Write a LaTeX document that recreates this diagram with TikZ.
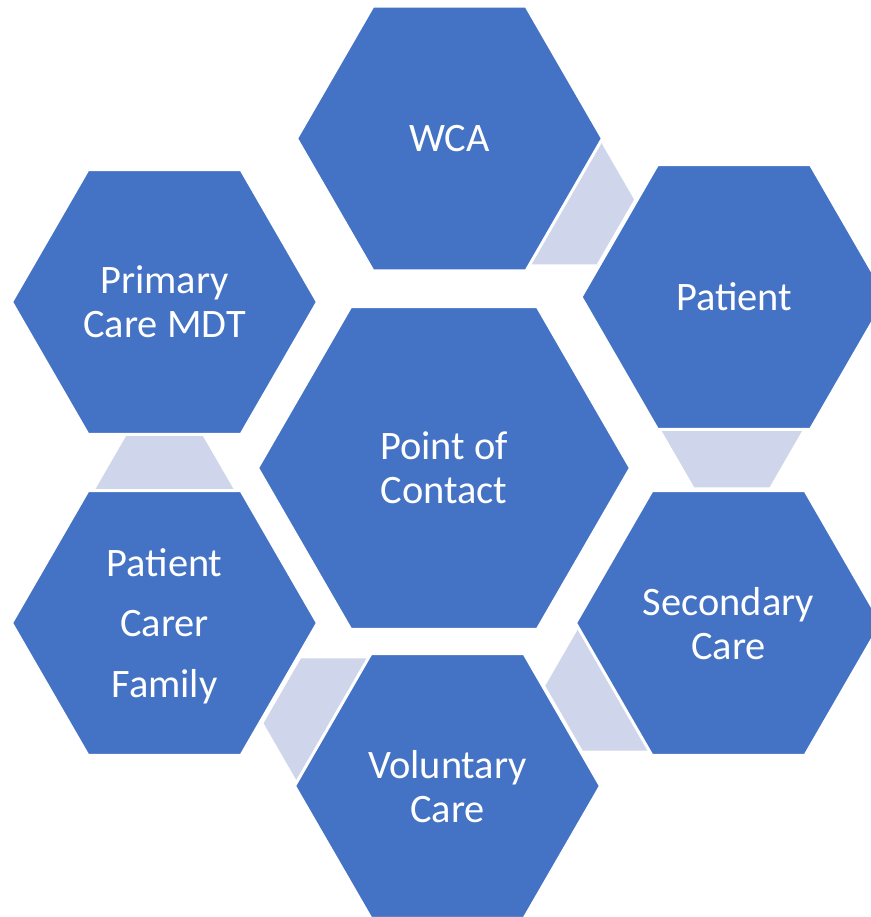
\documentclass[tikz,border=0pt]{standalone}
\usepackage{fontspec}
\setmainfont{Carlito}
\usetikzlibrary{shapes.geometric, calc, backgrounds}

\definecolor{hexblue}{HTML}{4472C4}
\definecolor{linkgrey}{HTML}{CFD5EA}

\begin{document}
\begin{tikzpicture}[x=0.02cm, y=-0.02cm, font=\fontsize{23}{25}\selectfont,
    hexa/.style = {regular polygon, regular polygon sides=6, minimum size=6.12cm, inner sep=0pt, fill=hexblue, draw=white, line width=1.7pt, text=white, align=center, text depth=0pt},
    bighexa/.style = {hexa, minimum size=7.46cm},
    link/.style = {regular polygon, regular polygon sides=6, minimum size=3cm, inner sep=0pt, fill=linkgrey}]
    \useasboundingbox (0,0) rectangle (871,917);
    \clip (0,0) rectangle (871,917);
    % centre and ring
    \node[bighexa] (poc) at (444,468) {Point of\\Contact};
    \node[hexa] (wca) at (449.5,138.5) {WCA};
    \node[hexa] (patient) at (734,297) {Patient};
    \node[hexa] (secondary) at (728.5,623) {Secondary\\Care};
    \node[hexa] (voluntary) at (447.5,786) {Voluntary\\Care};
    \node[hexa, font=\fontsize{23}{34.6}\selectfont] (family) at (164.5,623) {Patient\\Carer\\Family};
    \node[hexa] (primary) at (164.5,302) {Primary\\Care MDT};
    % small links sit behind the ring
    \begin{pgfonlayer}{background}
        \node[link] (l1) at ($(wca)!0.385!(patient)$) {};
        \node[link] (l2) at ($(patient)!0.385!(secondary)$) {};
        \node[link] (l3) at ($(secondary)!0.385!(voluntary)$) {};
        \node[link] (l4) at ($(voluntary)!0.385!(family)$) {};
        \node[link] (l5) at ($(family)!0.385!(primary)$) {};
    \end{pgfonlayer}
\end{tikzpicture}
\end{document}
